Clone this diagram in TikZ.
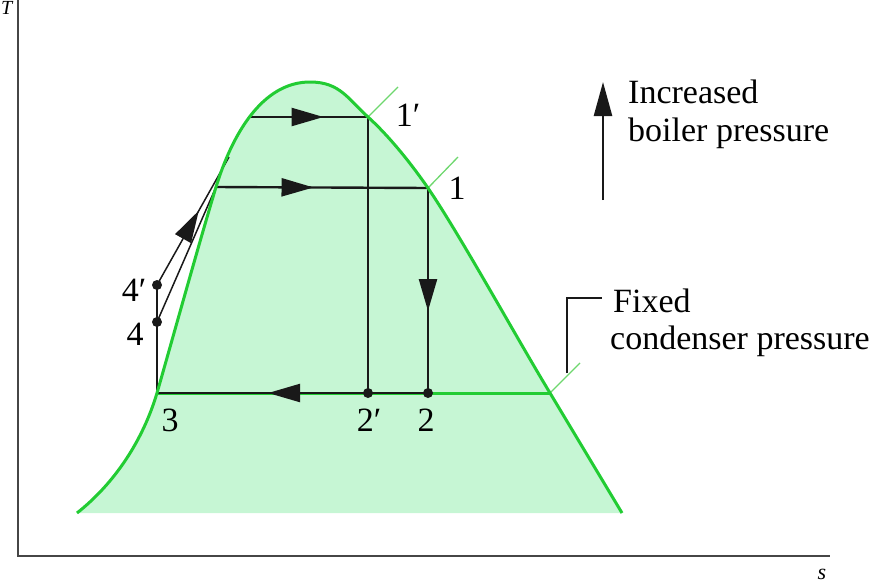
\documentclass[tikz,border=0pt]{standalone}
\usepackage{fontspec}
\setmainfont{Liberation Serif}
\usetikzlibrary{arrows.meta,decorations.markings}
\definecolor{domegreen}{RGB}{34,204,51}
\definecolor{fillgreen}{RGB}{198,246,212}
\definecolor{tickgreen}{RGB}{110,215,110}
\definecolor{ink}{RGB}{25,25,25}
\definecolor{axisgray}{RGB}{70,70,70}
\begin{document}
\begin{tikzpicture}[x=1pt,y=-1pt,
  dome/.style={domegreen, line width=3pt},
  proc/.style={ink, line width=2.4pt},
  thinproc/.style={ink, line width=1.5pt},
  ticklin/.style={tickgreen, line width=1.3pt},
  lbl/.style={font=\fontsize{34}{40}\selectfont, inner sep=0pt},
  statedot/.style={circle, fill=ink, inner sep=0pt, minimum size=10pt},
  midarrow/.style={postaction={decorate}, decoration={markings, mark=at position #1 with {\arrow{Triangle[length=32pt,width=18pt]}}}},
]
\useasboundingbox (0,0) rectangle (890,584);

% two-phase dome fill
\fill[fillgreen] (77,513) .. controls (115,483) and (143,440) .. (157,393)
  .. controls (175,330) and (200,240) .. (216,187)
  .. controls (232,135) and (262,82) .. (310,82)
  .. controls (340,82) and (348,99) .. (368,117)
  .. controls (388,135) and (410,162) .. (428,188)
  .. controls (460,235) and (515,335) .. (550,393)
  -- (622,513) -- cycle;

% axes
\draw[axisgray, line width=2pt] (18,0) -- (18,556) -- (830,556);
\node[font=\itshape\fontsize{20}{20}\selectfont, inner sep=0pt, anchor=north west] (tlab) at (1,1) {T};
\node[font=\itshape\fontsize{22}{22}\selectfont, inner sep=0pt] (slab) at (822,574) {s};

% coordinates of states
\coordinate (p1) at (428,188);
\coordinate (p1p) at (368,117);
\coordinate (p2) at (428,393);
\coordinate (p2p) at (368,393);
\coordinate (p3) at (157,393);
\coordinate (p4) at (157,322);
\coordinate (p4p) at (157,285);
\coordinate (sat) at (550,393);
\coordinate (a1) at (216,187);
\coordinate (a2) at (229,157);
\coordinate (b1) at (251,117);

% saturation isobar (green part)
\draw[dome] (p3) -- (sat);

% tick lines
\draw[ticklin] (p1p) -- ++(30,-30);
\draw[ticklin] (p1) -- ++(30,-31);
\draw[ticklin] (sat) -- ++(30,-30);

% process lines
\draw[proc] (p3) -- (p4p);
\draw[thinproc] (p4) -- (a1);
\draw[thinproc, midarrow=0.58] (p4p) -- (a2);
\draw[proc, midarrow=0.46] (a1) -- (p1);
\draw[proc, midarrow=0.62] (b1) -- (p1p);
\draw[proc, midarrow=0.6] (p1) -- (p2);
\draw[proc] (p1p) -- (p2p);
\draw[proc, midarrow=0.59] (p2) -- (p3);

% dome line
\draw[dome] (77,513) .. controls (115,483) and (143,440) .. (157,393)
  .. controls (175,330) and (200,240) .. (216,187)
  .. controls (232,135) and (262,82) .. (310,82)
  .. controls (340,82) and (348,99) .. (368,117)
  .. controls (388,135) and (410,162) .. (428,188)
  .. controls (460,235) and (515,335) .. (550,393)
  -- (622,513);

% state dots
\node[statedot] (d4) at (p4) {};
\node[statedot] (d4p) at (p4p) {};
\node[statedot] (d2) at (p2) {};
\node[statedot] (d2p) at (p2p) {};

% state labels
\node[lbl] (l1p) at (408,115) {1′};
\node[lbl] (l1) at (457,188) {1};
\node[lbl] (l2p) at (369,420) {2′};
\node[lbl] (l2) at (426,420) {2};
\node[lbl] (l3) at (170,420) {3};
\node[lbl] (l4p) at (134,290) {4′};
\node[lbl] (l4) at (135,334) {4};

% increased boiler pressure
\draw[ink, line width=2.5pt, -{Triangle[length=34pt,width=18pt]}] (603,200) -- (603,82);
\node[lbl, anchor=base west] (inc1) at (628,103) {Increased};
\node[lbl, anchor=base west] (inc2) at (628,141) {boiler pressure};

% fixed condenser pressure
\draw[ink, line width=1.8pt] (567,373) -- (567,298) -- (602,298);
\node[lbl, anchor=base west] (fix1) at (613,312) {Fixed};
\node[lbl, anchor=base west] (fix2) at (610,349) {condenser pressure};
\end{tikzpicture}
\end{document}
